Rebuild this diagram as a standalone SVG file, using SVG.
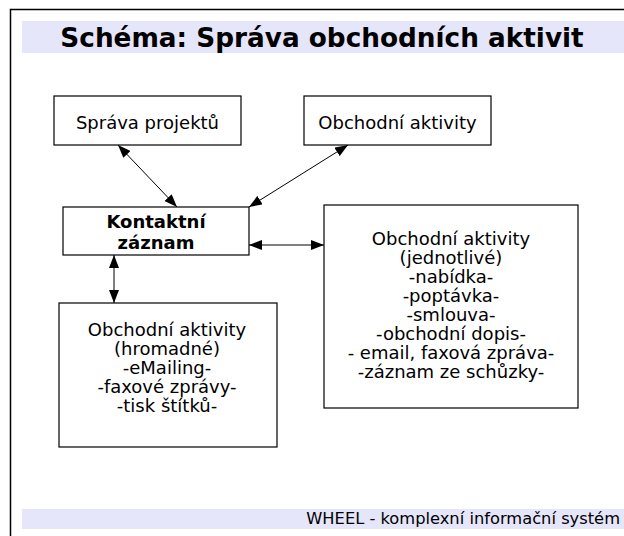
<svg xmlns="http://www.w3.org/2000/svg" width="624" height="536" viewBox="0 0 624 536">
<style>
.box{fill:#fff;stroke:#000;stroke-width:1.2}
.t{font-family:"DejaVu Sans",Verdana,sans-serif;font-size:18px;fill:#000;text-anchor:middle}
.b{font-weight:bold}
.band{fill:#E6E6FA}
.c{stroke:#000;stroke-width:1;fill:none;marker-start:url(#ah);marker-end:url(#ah)}
</style>
<defs>
<marker id="ah" viewBox="0 0 13 10" refX="13" refY="5" markerWidth="13" markerHeight="10" markerUnits="userSpaceOnUse" orient="auto-start-reverse">
<path d="M0,0 L13,5 L0,10 Z" fill="#000"/>
</marker>
</defs>
<rect x="0" y="0" width="624" height="536" fill="#fff"/>
<rect x="10.5" y="9.5" width="700" height="600" fill="none" stroke="#000" stroke-width="1.5"/>
<g id="title">
<rect class="band" x="22" y="21" width="602" height="32"/>
<text x="322" y="47" class="t b" style="font-size:26.3px">Schéma: Správa obchodních aktivit</text>
</g>
<g id="footer">
<rect class="band" x="22" y="509" width="602" height="20"/>
<text x="620" y="524" class="t" style="font-size:16.3px;text-anchor:end">WHEEL - komplexní informační systém</text>
</g>
<g id="connectors">
<line class="c" x1="118" y1="145" x2="177" y2="207"/>
<line class="c" x1="348" y1="145" x2="249" y2="207"/>
<line class="c" x1="249" y1="245" x2="324" y2="245"/>
<line class="c" x1="114" y1="255" x2="114" y2="303"/>
</g>
<g id="sprava-projektu">
<rect class="box" x="54" y="96" width="187" height="49"/>
<text class="t" x="147.5" y="129">Správa projektů</text>
</g>
<g id="obchodni-aktivity">
<rect class="box" x="304" y="96" width="187" height="49"/>
<text class="t" x="397.5" y="129">Obchodní aktivity</text>
</g>
<g id="kontaktni-zaznam">
<rect class="box" x="63" y="207" width="186" height="48"/>
<text class="t b" x="156" y="228">Kontaktní</text>
<text class="t b" x="156" y="249">záznam</text>
</g>
<g id="jednotlive">
<rect class="box" x="324" y="205" width="254" height="203"/>
<text class="t" x="451" y="245">Obchodní aktivity</text>
<text class="t" x="451" y="264">(jednotlivé)</text>
<text class="t" x="451" y="283">-nabídka-</text>
<text class="t" x="451" y="302">-poptávka-</text>
<text class="t" x="451" y="321">-smlouva-</text>
<text class="t" x="451" y="340">-obchodní dopis-</text>
<text class="t" x="451" y="359">- email, faxová zpráva-</text>
<text class="t" x="451" y="378">-záznam ze schůzky-</text>
</g>
<g id="hromadne">
<rect class="box" x="59" y="303" width="218" height="144"/>
<text class="t" x="167" y="336">Obchodní aktivity</text>
<text class="t" x="167" y="355">(hromadné)</text>
<text class="t" x="167" y="374">-eMailing-</text>
<text class="t" x="167" y="393">-faxové zprávy-</text>
<text class="t" x="167" y="412">-tisk štítků-</text>
</g>
</svg>
